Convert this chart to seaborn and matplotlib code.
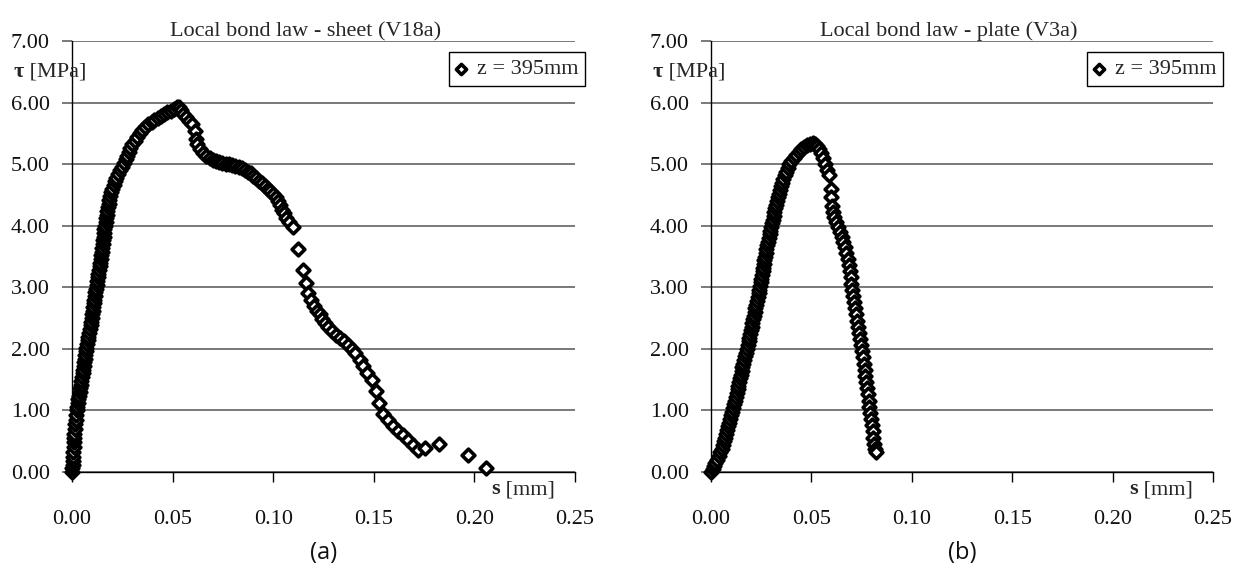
import matplotlib
matplotlib.use("Agg")
import matplotlib.pyplot as plt
import seaborn as sns
from matplotlib.ticker import FormatStrFormatter

# Slip s [mm] and bond stress tau [MPa], sheet specimen V18a
sheet_points = [
    (0.0000, 0.00), (0.0002, 0.06), (0.0003, 0.12), (0.0004, 0.18), (0.0005, 0.25),
    (0.0006, 0.32), (0.0008, 0.40), (0.0009, 0.48), (0.0011, 0.55), (0.0012, 0.62),
    (0.0014, 0.70), (0.0016, 0.78), (0.0018, 0.85), (0.0020, 0.92), (0.0023, 1.00),
    (0.0026, 1.06), (0.0029, 1.12), (0.0032, 1.18), (0.0035, 1.24), (0.0038, 1.30),
    (0.0041, 1.36), (0.0044, 1.42), (0.0047, 1.48), (0.0050, 1.54), (0.0053, 1.60),
    (0.0055, 1.66), (0.0058, 1.72), (0.0060, 1.78), (0.0063, 1.84), (0.0065, 1.90),
    (0.0068, 1.96), (0.0071, 2.02), (0.0075, 2.08), (0.0078, 2.14), (0.0082, 2.20),
    (0.0085, 2.26), (0.0088, 2.32), (0.0092, 2.38), (0.0095, 2.44), (0.0098, 2.50),
    (0.0101, 2.56), (0.0104, 2.62), (0.0106, 2.68), (0.0109, 2.74), (0.0111, 2.80),
    (0.0114, 2.86), (0.0116, 2.92), (0.0119, 2.98), (0.0122, 3.04), (0.0125, 3.10),
    (0.0128, 3.16), (0.0131, 3.22), (0.0134, 3.28), (0.0137, 3.34), (0.0140, 3.40),
    (0.0142, 3.46), (0.0145, 3.52), (0.0148, 3.58), (0.0150, 3.64), (0.0153, 3.70),
    (0.0155, 3.76), (0.0157, 3.82), (0.0159, 3.88), (0.0161, 3.94), (0.0164, 4.00),
    (0.0167, 4.06), (0.0170, 4.12), (0.0173, 4.18), (0.0176, 4.24), (0.0179, 4.30),
    (0.0182, 4.36), (0.0185, 4.42), (0.0188, 4.48), (0.0193, 4.54), (0.0200, 4.60),
    (0.0207, 4.66), (0.0214, 4.72), (0.0221, 4.78), (0.0229, 4.84), (0.0238, 4.90),
    (0.0248, 4.96), (0.0258, 5.02), (0.0266, 5.08), (0.0274, 5.14), (0.0282, 5.20),
    (0.0290, 5.26), (0.0300, 5.32), (0.0312, 5.38), (0.0324, 5.44), (0.0336, 5.50),
    (0.0350, 5.55), (0.0364, 5.60), (0.0380, 5.65), (0.0396, 5.69), (0.0410, 5.72),
    (0.0425, 5.75), (0.0440, 5.78), (0.0455, 5.81), (0.0470, 5.84), (0.0490, 5.87),
    (0.0505, 5.90), (0.0520, 5.92), (0.0530, 5.92),
    (0.0540, 5.88), (0.0552, 5.82), (0.0565, 5.76), (0.0580, 5.70), (0.0598, 5.65),
    (0.0611, 5.54), (0.0616, 5.41), (0.0622, 5.32), (0.0636, 5.24), (0.0652, 5.18),
    (0.0668, 5.13), (0.0684, 5.10), (0.0700, 5.07), (0.0716, 5.05), (0.0732, 5.04),
    (0.0748, 5.02), (0.0764, 5.01), (0.0780, 5.00), (0.0796, 4.99), (0.0812, 4.97),
    (0.0828, 4.96), (0.0844, 4.94), (0.0860, 4.91), (0.0874, 4.88), (0.0888, 4.85),
    (0.0902, 4.81), (0.0916, 4.77), (0.0930, 4.73), (0.0944, 4.69), (0.0958, 4.65),
    (0.0972, 4.60), (0.0986, 4.56), (0.1000, 4.52), (0.1012, 4.46), (0.1024, 4.40),
    (0.1034, 4.33), (0.1044, 4.26), (0.1054, 4.20), (0.1066, 4.13), (0.1078, 4.06),
    (0.1097, 3.98), (0.1125, 3.62), (0.1150, 3.28), (0.1163, 3.07), (0.1175, 2.91),
    (0.1190, 2.80), (0.1204, 2.69), (0.1218, 2.62), (0.1233, 2.56), (0.1245, 2.49),
    (0.1257, 2.42), (0.1273, 2.35), (0.1290, 2.29), (0.1310, 2.23), (0.1332, 2.18),
    (0.1352, 2.12), (0.1373, 2.07), (0.1390, 2.00), (0.1407, 1.93), (0.1431, 1.82),
    (0.1448, 1.72), (0.1465, 1.61), (0.1490, 1.49), (0.1510, 1.32), (0.1527, 1.12),
    (0.1547, 0.94), (0.1572, 0.85), (0.1594, 0.74), (0.1622, 0.66), (0.1647, 0.60),
    (0.1672, 0.52), (0.1696, 0.44), (0.1721, 0.36), (0.1754, 0.39), (0.1826, 0.45),
    (0.1970, 0.28), (0.2060, 0.07),
]

# Slip s [mm] and bond stress tau [MPa], plate specimen V3a
plate_points = [
    (0.0000, 0.00), (0.0008, 0.05), (0.0015, 0.10), (0.0022, 0.15), (0.0030, 0.20),
    (0.0038, 0.26), (0.0046, 0.32), (0.0053, 0.38), (0.0059, 0.44), (0.0065, 0.50),
    (0.0070, 0.56), (0.0075, 0.62), (0.0080, 0.68), (0.0085, 0.74), (0.0091, 0.80),
    (0.0096, 0.86), (0.0101, 0.92), (0.0106, 0.98), (0.0111, 1.04), (0.0116, 1.10),
    (0.0120, 1.16), (0.0124, 1.22), (0.0128, 1.28), (0.0132, 1.34), (0.0136, 1.40),
    (0.0140, 1.46), (0.0144, 1.52), (0.0148, 1.58), (0.0152, 1.64), (0.0156, 1.70),
    (0.0160, 1.76), (0.0165, 1.82), (0.0170, 1.88), (0.0175, 1.94), (0.0179, 2.00),
    (0.0183, 2.06), (0.0187, 2.12), (0.0191, 2.18), (0.0195, 2.24), (0.0198, 2.30),
    (0.0202, 2.36), (0.0206, 2.42), (0.0209, 2.48), (0.0213, 2.54), (0.0217, 2.60),
    (0.0221, 2.66), (0.0225, 2.72), (0.0229, 2.78), (0.0233, 2.84), (0.0237, 2.90),
    (0.0241, 2.96), (0.0244, 3.02), (0.0248, 3.08), (0.0251, 3.14), (0.0254, 3.20),
    (0.0257, 3.26), (0.0260, 3.32), (0.0263, 3.38), (0.0266, 3.44), (0.0269, 3.50),
    (0.0272, 3.56), (0.0276, 3.62), (0.0280, 3.68), (0.0284, 3.74), (0.0288, 3.80),
    (0.0292, 3.86), (0.0296, 3.92), (0.0300, 3.98), (0.0304, 4.04), (0.0308, 4.10),
    (0.0312, 4.16), (0.0316, 4.22), (0.0320, 4.28), (0.0324, 4.34), (0.0328, 4.40),
    (0.0333, 4.46), (0.0338, 4.52), (0.0344, 4.58), (0.0349, 4.64), (0.0355, 4.70),
    (0.0361, 4.76), (0.0367, 4.82), (0.0374, 4.88), (0.0382, 4.94), (0.0390, 5.00),
    (0.0400, 5.05), (0.0412, 5.10), (0.0424, 5.15), (0.0437, 5.20), (0.0450, 5.24),
    (0.0465, 5.28), (0.0480, 5.31), (0.0495, 5.33), (0.0508, 5.34), (0.0520, 5.33),
    (0.0530, 5.30), (0.0540, 5.25), (0.0550, 5.18), (0.0560, 5.10), (0.0570, 5.00),
    (0.0580, 4.90), (0.0590, 4.82), (0.0598, 4.59), (0.0598, 4.47), (0.0602, 4.32),
    (0.0607, 4.22), (0.0613, 4.14), (0.0622, 4.06), (0.0632, 3.98), (0.0642, 3.90),
    (0.0651, 3.82), (0.0659, 3.74), (0.0667, 3.65), (0.0674, 3.56), (0.0680, 3.46),
    (0.0685, 3.36), (0.0690, 3.26), (0.0695, 3.16), (0.0699, 3.06), (0.0703, 2.96),
    (0.0707, 2.86), (0.0712, 2.76), (0.0717, 2.66), (0.0722, 2.56), (0.0727, 2.46),
    (0.0732, 2.36), (0.0737, 2.26), (0.0742, 2.16), (0.0747, 2.06), (0.0752, 1.96),
    (0.0757, 1.86), (0.0761, 1.76), (0.0765, 1.66), (0.0769, 1.56), (0.0773, 1.46),
    (0.0777, 1.36), (0.0781, 1.26), (0.0785, 1.16), (0.0789, 1.06), (0.0793, 0.96),
    (0.0797, 0.86), (0.0801, 0.76), (0.0805, 0.66), (0.0809, 0.56), (0.0813, 0.46),
    (0.0818, 0.38), (0.0822, 0.33),
]

titles = ["Local bond law - sheet (V18a)", "Local bond law - plate (V3a)"]
panel_tags = ["(a)", "(b)"]
series_label = "z = 395mm"
x_ticks = [0.00, 0.05, 0.10, 0.15, 0.20, 0.25]
y_ticks = [0.0, 1.0, 2.0, 3.0, 4.0, 5.0, 6.0, 7.0]

sns.set_theme(style="white")
plt.rcParams["font.family"] = ["Liberation Serif", "DejaVu Serif"]

W, H = 1238, 578
fig = plt.figure(figsize=(W / 100, H / 100), dpi=100)
fig.patch.set_facecolor("white")

# axes frames in pixel terms: left, right, top, bottom
frames = [(72, 575, 41, 472), (711, 1213, 41, 472)]
title_x = [306, 949]
series = [sheet_points, plate_points]
FS = 16

for i, ((x0, x1, y0, y1), pts) in enumerate(zip(frames, series)):
    ax = fig.add_axes([x0 / W, (H - y1) / H, (x1 - x0) / W, (y1 - y0) / H])
    s_vals = [p[0] for p in pts]
    t_vals = [p[1] for p in pts]
    sns.scatterplot(x=s_vals, y=t_vals, ax=ax, marker="D", s=42,
                    color="white", edgecolor="black", linewidth=2.6,
                    label=series_label, legend=False, zorder=3, clip_on=False)

    ax.set_xlim(0, 0.25)
    ax.set_ylim(0, 7)
    ax.set_xticks(x_ticks)
    ax.set_yticks(y_ticks)
    ax.xaxis.set_major_formatter(FormatStrFormatter("%.2f"))
    ax.yaxis.set_major_formatter(FormatStrFormatter("%.2f"))
    ax.set_xlabel("")
    ax.set_ylabel("")

    ax.yaxis.grid(True, color="#555555", linewidth=1.1)
    ax.xaxis.grid(False)
    ax.set_axisbelow(True)
    for side in ("top", "right"):
        ax.spines[side].set_visible(False)
    for side in ("left", "bottom"):
        ax.spines[side].set_color("black")
        ax.spines[side].set_linewidth(1.0)

    ax.tick_params(axis="x", direction="out", length=7, width=1, color="black",
                   pad=20, labelsize=FS, labelcolor="#111111", bottom=True)
    ax.tick_params(axis="y", direction="out", length=7, width=1.1, color="#555555",
                   pad=9, labelsize=FS, labelcolor="#111111", left=True)

    leg = ax.legend(loc="upper right", bbox_to_anchor=(1.02, 0.974),
                    frameon=True, fancybox=False, edgecolor="black",
                    framealpha=1, borderaxespad=0, handlelength=0.5,
                    handletextpad=0.45, borderpad=0.3, fontsize=FS,
                    markerscale=0.8)
    leg.get_frame().set_linewidth(1.0)

    # axis captions with bold symbol
    t1 = ax.text(-0.117, 0.905, "τ", transform=ax.transAxes, fontsize=FS,
                 fontweight="bold", va="bottom", ha="left")
    ax.annotate(" [MPa]", xy=(1, 0), xycoords=t1, fontsize=FS,
                va="bottom", ha="left")
    t2 = ax.text(0.833, -0.063, "s", transform=ax.transAxes, fontsize=FS,
                 fontweight="bold", va="bottom", ha="left")
    ax.annotate(" [mm]", xy=(1, 0), xycoords=t2, fontsize=FS,
                va="bottom", ha="left")

    fig.text(title_x[i] / W, 1 - 36 / H, titles[i], fontsize=FS,
             ha="center", va="baseline")
    fig.text(((x0 + x1) / 2) / W, 1 - 553 / H, panel_tags[i],
             family="Open Sans", fontsize=17, ha="center", va="center",
             color="#111111")

fig.savefig("out.png", dpi=100, facecolor="white")
